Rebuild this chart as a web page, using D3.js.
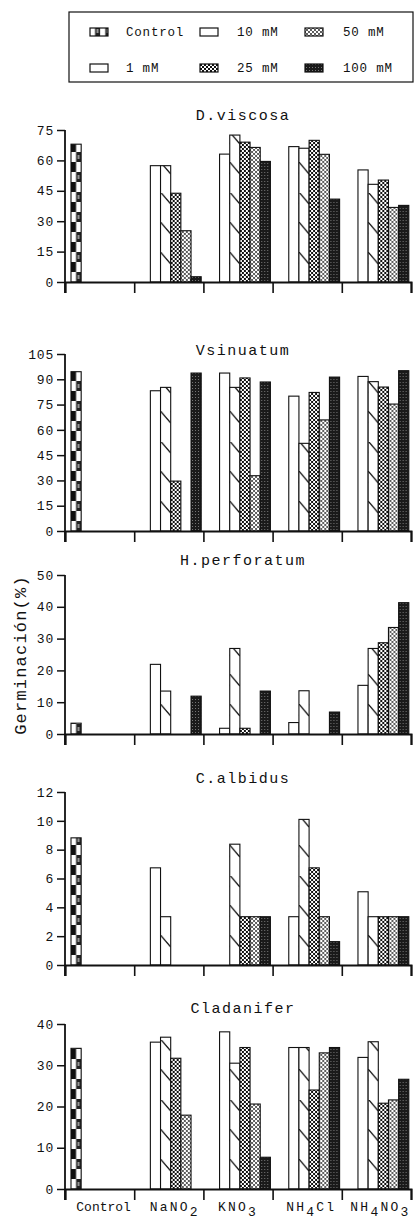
<!DOCTYPE html>
<html>
<head>
<meta charset="utf-8">
<script src="https://cdn.jsdelivr.net/npm/d3@7"></script>
<style>
  body { margin: 0; background: #fff; }
  svg text { font-family: "Liberation Mono", "DejaVu Sans Mono", monospace; fill: #111; }
</style>
</head>
<body>
<div id="chart"></div>
<script>
// categories and series
const categories = ["Control", "NaNO2", "KNO3", "NH4Cl", "NH4NO3"];
const series = ["Control", "1 mM", "10 mM", "25 mM", "50 mM", "100 mM"];
const species = ["D.viscosa", "Vsinuatum", "H.perforatum", "C.albidus", "Cladanifer"];
const yMax = [75, 105, 50, 12, 40];
const yStep = [15, 15, 10, 2, 10];

// germination (%) - rows = category, cols = series (Control, 1, 10, 25, 50, 100 mM)
const dViscosa = [
  [68, 0, 0, 0, 0, 0],
  [0, 57.4, 57.4, 43.8, 25.3, 2.6],
  [0, 63.1, 72.5, 69, 66.4, 59.5],
  [0, 66.8, 66, 69.9, 63, 40.9],
  [0, 55.3, 48.2, 50.3, 36.8, 37.8]
];
const vSinuatum = [
  [94.5, 0, 0, 0, 0, 0],
  [0, 83.2, 85.2, 29.6, 0, 93.7],
  [0, 93.7, 85.2, 90.8, 32.8, 88.4],
  [0, 80, 52, 82.2, 65.9, 91.3],
  [0, 91.7, 88.6, 85.4, 75.3, 95.1]
];
const hPerforatum = [
  [3.4, 0, 0, 0, 0, 0],
  [0, 21.9, 13.5, 0, 0, 11.9],
  [0, 1.8, 26.9, 1.8, 0, 13.5],
  [0, 3.6, 13.6, 0, 0, 6.9],
  [0, 15.3, 26.9, 28.7, 33.5, 41.3]
];
const cAlbidus = [
  [8.82, 0, 0, 0, 0, 0],
  [0, 6.74, 3.35, 0, 0, 0],
  [0, 0, 8.38, 3.35, 3.35, 3.35],
  [0, 3.35, 10.1, 6.74, 3.35, 1.62],
  [0, 5.08, 3.35, 3.35, 3.35, 3.35]
];
const cLadanifer = [
  [34.1, 0, 0, 0, 0, 0],
  [0, 35.6, 36.8, 31.7, 17.9, 0],
  [0, 38.1, 30.5, 34.3, 20.6, 7.7],
  [0, 34.3, 34.3, 24, 33, 34.3],
  [0, 31.9, 35.7, 20.8, 21.6, 26.6]
];
const panelValues = [dViscosa, vSinuatum, hPerforatum, cAlbidus, cLadanifer];

// layout of the five stacked panels
const panelTop = [130, 354, 575, 792, 1024];
const panelBase = [282, 531, 734, 965, 1189];
const titleY = [120, 355, 565, 783, 1013];
const left = 65, right = 411;

const W = 417, H = 1223;
const svg = d3.select("#chart").append("svg")
  .attr("width", W).attr("height", H);
svg.append("rect").attr("width", W).attr("height", H).attr("fill", "#fff");

// fill patterns
const defs = svg.append("defs");
const pw = 10.17;
let p = defs.append("pattern").attr("id", "pat0").attr("patternUnits", "userSpaceOnUse")
  .attr("width", pw).attr("height", 20);
p.append("rect").attr("width", pw).attr("height", 20).attr("fill", "#fff");
p.append("rect").attr("x", 0).attr("y", 0).attr("width", pw / 2).attr("height", 10).attr("fill", "#111");
p.append("rect").attr("x", pw / 2).attr("y", 10).attr("width", pw / 2).attr("height", 10).attr("fill", "#222");
p.append("rect").attr("x", pw / 2 + 1.5).attr("y", 13).attr("width", 2).attr("height", 4).attr("fill", "#999");

p = defs.append("pattern").attr("id", "pat1").attr("patternUnits", "userSpaceOnUse")
  .attr("width", 4).attr("height", 4);
p.append("rect").attr("width", 4).attr("height", 4).attr("fill", "#fff");

p = defs.append("pattern").attr("id", "pat2").attr("patternUnits", "userSpaceOnUse")
  .attr("width", pw).attr("height", 30);
p.append("rect").attr("width", pw).attr("height", 30).attr("fill", "#fff");
p.append("line").attr("x1", 0).attr("y1", 0).attr("x2", pw).attr("y2", 12)
  .attr("stroke", "#111").attr("stroke-width", 1.2);

p = defs.append("pattern").attr("id", "pat3").attr("patternUnits", "userSpaceOnUse")
  .attr("width", 4).attr("height", 4);
p.append("rect").attr("width", 4).attr("height", 4).attr("fill", "#fff");
p.append("rect").attr("x", 0).attr("y", 0).attr("width", 2).attr("height", 2).attr("fill", "#111");
p.append("rect").attr("x", 2).attr("y", 2).attr("width", 2).attr("height", 2).attr("fill", "#111");

p = defs.append("pattern").attr("id", "pat4").attr("patternUnits", "userSpaceOnUse")
  .attr("width", 4).attr("height", 4);
p.append("rect").attr("width", 4).attr("height", 4).attr("fill", "#fff");
[[0, 0], [4, 0], [0, 4], [4, 4], [2, 2]].forEach(c => {
  p.append("circle").attr("cx", c[0]).attr("cy", c[1]).attr("r", 0.9).attr("fill", "#111");
});

p = defs.append("pattern").attr("id", "pat5").attr("patternUnits", "userSpaceOnUse")
  .attr("width", 3).attr("height", 3);
p.append("rect").attr("width", 3).attr("height", 3).attr("fill", "#1a1a1a");
p.append("rect").attr("x", 1).attr("y", 1).attr("width", 1).attr("height", 1).attr("fill", "#777");

// scales shared by all panels
const x0 = d3.scaleBand().domain(categories).range([left, right]);
const x1 = d3.scaleBand().domain(series).range([6, 67]);
const xEdge = d3.scaleLinear().domain([0, categories.length]).range([left, right]);

species.forEach((name, pi) => {
  const g = svg.append("g");
  const y = d3.scaleLinear().domain([0, yMax[pi]]).range([panelBase[pi], panelTop[pi]]);
  const base = panelBase[pi];

  g.append("text").attr("x", 243).attr("y", titleY[pi])
    .attr("text-anchor", "middle").attr("font-size", 15).attr("letter-spacing", 1.5)
    .text(name);

  // bars
  panelValues[pi].forEach((row, ci) => {
    row.forEach((v, si) => {
      if (v <= 0) return;
      const bx = x0(categories[ci]) + x1(series[si]);
      g.append("g").attr("transform", `translate(${bx},${base})`)
        .append("rect")
        .attr("x", 0).attr("y", y(v) - base)
        .attr("width", x1.bandwidth()).attr("height", base - y(v))
        .attr("fill", `url(#pat${si})`)
        .attr("stroke", "#111").attr("stroke-width", 1.1);
    });
  });

  // y axis
  const yAxis = g.append("g").attr("transform", `translate(${left},0)`)
    .call(d3.axisLeft(y).tickValues(d3.range(0, yMax[pi] + 0.01, yStep[pi]))
      .tickSize(8).tickPadding(3).tickFormat(d3.format("d")));
  yAxis.select(".domain").remove();
  yAxis.selectAll(".tick line").attr("stroke", "#111").attr("stroke-width", 1.5);
  yAxis.selectAll(".tick text").attr("font-size", 13).attr("letter-spacing", 0.8)
    .attr("font-family", "Liberation Mono").attr("fill", "#111");
  g.append("line").attr("x1", left).attr("x2", left)
    .attr("y1", panelTop[pi]).attr("y2", base + 11)
    .attr("stroke", "#111").attr("stroke-width", 1.8);

  // x axis: baseline with category boundary ticks
  const xAxis = g.append("g").attr("transform", `translate(0,${base})`)
    .call(d3.axisBottom(xEdge).ticks(categories.length).tickSize(11).tickFormat(""));
  xAxis.select(".domain").attr("stroke", "#111").attr("stroke-width", 2);
  xAxis.selectAll(".tick line").attr("stroke", "#111").attr("stroke-width", 1.6);
});

// category labels on the bottom panel
const catLabels = [
  [["Control", 0]],
  [["NaNO", 0], ["2", 5]],
  [["KNO", 0], ["3", 5]],
  [["NH", 0], ["4", 5], ["Cl", -5]],
  [["NH", 0], ["4", 5], ["NO", -5], ["3", 5]]
];
const labelShift = [4, 6, 0, 4, 4];
catLabels.forEach((parts, ci) => {
  const t = svg.append("text")
    .attr("x", x0(categories[ci]) + x0.bandwidth() / 2 + labelShift[ci])
    .attr("y", 1211).attr("text-anchor", "middle")
    .attr("font-size", 13).attr("letter-spacing", ci === 0 ? 0 : 2.2);
  parts.forEach(pt => {
    t.append("tspan").attr("dy", pt[1]).text(pt[0]);
  });
});

// y axis title
svg.append("text")
  .attr("transform", "translate(26,655) rotate(-90)")
  .attr("text-anchor", "middle").attr("font-size", 17).attr("letter-spacing", 1.2)
  .text("Germinación(%)");

// legend
const legend = svg.append("g");
legend.append("rect").attr("x", 69).attr("y", 12).attr("width", 344).attr("height", 70)
  .attr("fill", "none").attr("stroke", "#111").attr("stroke-width", 1.2);
const legendOrder = [0, 2, 4, 1, 3, 5];
const iconX = [90, 200, 305];
const textX = [126, 237, 343];
const rowY = [32, 68];
legendOrder.forEach((si, k) => {
  const col = k % 3, row = Math.floor(k / 3);
  legend.append("g").attr("transform", `translate(${iconX[col]},${rowY[row] + 4})`)
    .append("rect").attr("x", 0).attr("y", -8).attr("width", 18).attr("height", 8)
    .attr("fill", `url(#pat${si})`).attr("stroke", "#111").attr("stroke-width", 1.2);
  legend.append("text").attr("x", textX[col]).attr("y", rowY[row] + 4)
    .attr("font-size", 12.5).attr("letter-spacing", 0.8)
    .text(series[si]);
});
</script>
</body>
</html>
